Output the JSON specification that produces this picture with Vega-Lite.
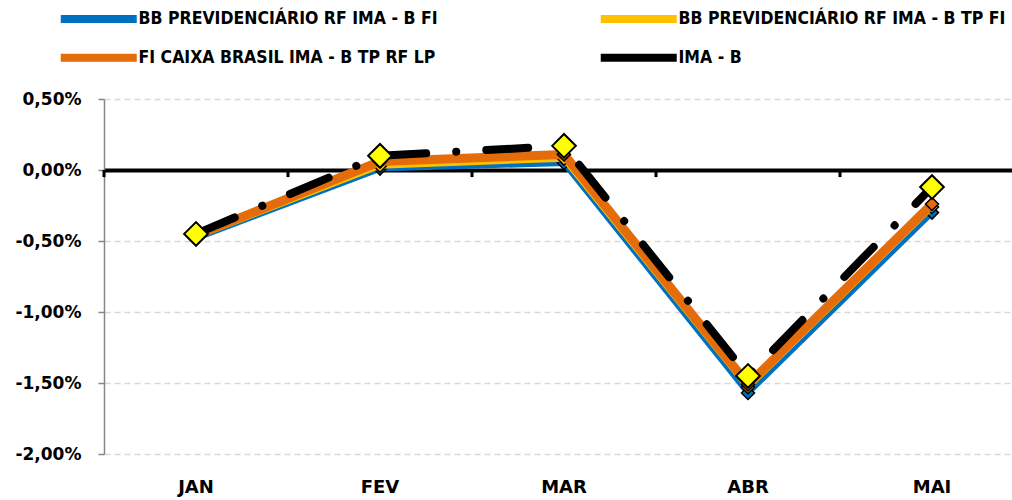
{
  "$schema": "https://vega.github.io/schema/vega-lite/v6.json",
  "autosize": {"type": "none"},
  "width": 908,
  "height": 355,
  "padding": {"left": 104, "top": 99, "right": 0, "bottom": 46},
  "background": "white",
  "config": {
    "locale": {"number": {"decimal": ",", "thousands": ".", "grouping": [3], "currency": ["R$", ""], "minus": "-"}},
    "view": {"stroke": null}
  },
  "data": {"values": [
    {"mes": "JAN", "serie": "BB PREVIDENCIÁRIO RF IMA - B FI", "valor": -0.0048},
    {"mes": "FEV", "serie": "BB PREVIDENCIÁRIO RF IMA - B FI", "valor": 0.0001},
    {"mes": "MAR", "serie": "BB PREVIDENCIÁRIO RF IMA - B FI", "valor": 0.0005},
    {"mes": "ABR", "serie": "BB PREVIDENCIÁRIO RF IMA - B FI", "valor": -0.0157},
    {"mes": "MAI", "serie": "BB PREVIDENCIÁRIO RF IMA - B FI", "valor": -0.0030},
    {"mes": "JAN", "serie": "BB PREVIDENCIÁRIO RF IMA - B TP FI", "valor": -0.0047},
    {"mes": "FEV", "serie": "BB PREVIDENCIÁRIO RF IMA - B TP FI", "valor": 0.0003},
    {"mes": "MAR", "serie": "BB PREVIDENCIÁRIO RF IMA - B TP FI", "valor": 0.0008},
    {"mes": "ABR", "serie": "BB PREVIDENCIÁRIO RF IMA - B TP FI", "valor": -0.0153},
    {"mes": "MAI", "serie": "BB PREVIDENCIÁRIO RF IMA - B TP FI", "valor": -0.0026},
    {"mes": "JAN", "serie": "FI CAIXA BRASIL IMA - B TP RF LP", "valor": -0.0046},
    {"mes": "FEV", "serie": "FI CAIXA BRASIL IMA - B TP RF LP", "valor": 0.0006},
    {"mes": "MAR", "serie": "FI CAIXA BRASIL IMA - B TP RF LP", "valor": 0.0011},
    {"mes": "ABR", "serie": "FI CAIXA BRASIL IMA - B TP RF LP", "valor": -0.0151},
    {"mes": "MAI", "serie": "FI CAIXA BRASIL IMA - B TP RF LP", "valor": -0.0024},
    {"mes": "JAN", "serie": "IMA - B", "valor": -0.0045},
    {"mes": "FEV", "serie": "IMA - B", "valor": 0.0010},
    {"mes": "MAR", "serie": "IMA - B", "valor": 0.0017},
    {"mes": "ABR", "serie": "IMA - B", "valor": -0.0145},
    {"mes": "MAI", "serie": "IMA - B", "valor": -0.0012}
  ]},
  "encoding": {
    "x": {"field": "mes", "type": "nominal", "sort": ["JAN", "FEV", "MAR", "ABR", "MAI"],
      "scale": {"type": "band", "range": [0, 920], "paddingInner": 0, "paddingOuter": 0},
      "axis": {"title": null, "orient": "bottom", "ticks": false, "domain": false, "grid": false, "labelAngle": 0,
        "labelFont": "DejaVu Sans", "labelFontWeight": "bold", "labelFontSize": 18, "labelColor": "#000000", "labelPadding": 24}},
    "y": {"field": "valor", "type": "quantitative",
      "scale": {"domain": [-0.02, 0.005], "nice": false, "zero": false},
      "axis": {"values": [-0.02, -0.015, -0.01, -0.005, 0, 0.005], "format": ".2%", "title": null,
        "grid": true,
        "gridDash": {"condition": {"test": "datum.value === 0", "value": []}, "value": [6, 4]},
        "gridColor": {"condition": {"test": "datum.value === 0", "value": "#000000"}, "value": "#D9D9D9"},
        "gridWidth": {"condition": {"test": "datum.value === 0", "value": 4}, "value": 1.5},
        "domainColor": "#868686", "domainWidth": 1.5, "tickColor": "#868686", "tickSize": 6, "tickWidth": 1.5,
        "labelFont": "DejaVu Sans", "labelFontWeight": "bold", "labelFontSize": 17, "labelColor": "#000000", "labelPadding": 17}},
    "color": {"field": "serie", "type": "nominal",
      "scale": {"domain": ["BB PREVIDENCIÁRIO RF IMA - B FI", "BB PREVIDENCIÁRIO RF IMA - B TP FI", "FI CAIXA BRASIL IMA - B TP RF LP", "IMA - B"],
        "range": ["#0070C0", "#FFC000", "#E46C0A", "#000000"]},
      "legend": {"orient": "none", "legendX": -50, "legendY": -89, "columns": 2, "direction": "horizontal",
        "title": null, "symbolType": "M-1,0H37", "symbolSize": 16, "symbolStrokeWidth": 8,
        "labelFont": "DejaVu Sans Condensed, Roboto Condensed, Roboto, sans-serif", "labelFontWeight": "bold", "labelFontSize": 17.5, "labelColor": "#000000",
        "labelLimit": 600, "labelOffset": 67, "columnPadding": 146, "rowPadding": 6}}
  },
  "layer": [
    {"transform": [{"filter": "datum.serie === 'IMA - B'"}],
     "mark": {"type": "rule", "color": "#000000", "strokeWidth": 3},
     "encoding": {
       "x": {"field": "mes", "type": "nominal", "sort": ["JAN", "FEV", "MAR", "ABR", "MAI"], "bandPosition": 0,
         "axis": {"title": null, "orient": "bottom", "ticks": false, "domain": false, "grid": false, "labelAngle": 0,
          "labelFont": "DejaVu Sans", "labelFontWeight": "bold", "labelFontSize": 18, "labelColor": "#000000", "labelPadding": 24}},
       "y": {"datum": 0},
       "y2": {"datum": -0.0005},
       "color": {"value": "#000000"}}},
    {"transform": [{"filter": "datum.serie === 'BB PREVIDENCIÁRIO RF IMA - B FI'"}],
     "mark": {"type": "line", "strokeWidth": 6, "strokeJoin": "round"}},
    {"transform": [{"filter": "datum.serie === 'BB PREVIDENCIÁRIO RF IMA - B FI'"}],
     "mark": {"type": "point", "shape": "diamond", "filled": true, "size": 170, "fill": "#0070C0", "stroke": "#000000", "strokeWidth": 1.5, "opacity": 1}},
    {"transform": [{"filter": "datum.serie === 'BB PREVIDENCIÁRIO RF IMA - B TP FI'"}],
     "mark": {"type": "line", "strokeWidth": 6, "strokeJoin": "round"}},
    {"transform": [{"filter": "datum.serie === 'BB PREVIDENCIÁRIO RF IMA - B TP FI'"}],
     "mark": {"type": "point", "shape": "diamond", "filled": true, "size": 170, "fill": "#FFC000", "stroke": "#000000", "strokeWidth": 1.5, "opacity": 1}},
    {"transform": [{"filter": "datum.serie === 'FI CAIXA BRASIL IMA - B TP RF LP'"}],
     "mark": {"type": "line", "strokeWidth": 9, "strokeJoin": "round"}},
    {"transform": [{"filter": "datum.serie === 'FI CAIXA BRASIL IMA - B TP RF LP'"}],
     "mark": {"type": "point", "shape": "diamond", "filled": true, "size": 170, "fill": "#E46C0A", "stroke": "#000000", "strokeWidth": 1.5, "opacity": 1}},
    {"transform": [{"filter": "datum.serie === 'IMA - B'"}],
     "mark": {"type": "line", "strokeWidth": 8, "strokeCap": "round", "strokeJoin": "round", "strokeDash": [42, 30, 0.1, 30]}},
    {"transform": [{"filter": "datum.serie === 'IMA - B'"}],
     "mark": {"type": "point", "shape": "diamond", "filled": true, "size": 560, "fill": "#FFFF00", "stroke": "#000000", "strokeWidth": 2, "opacity": 1}}
  ]
}
